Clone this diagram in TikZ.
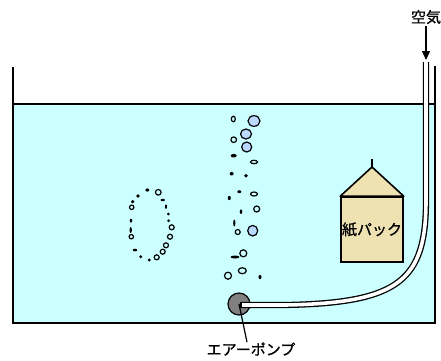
\documentclass[tikz,border=0pt]{standalone}
\usepackage{fontspec}
\newfontfamily\jp{Noto Sans CJK JP}[FakeBold=1]
\usetikzlibrary{arrows.meta,positioning}
\definecolor{water}{RGB}{204,255,255}
\definecolor{bubble}{RGB}{187,216,255}
\definecolor{carton}{RGB}{238,226,178}
\definecolor{pumpgray}{RGB}{128,128,128}
\tikzset{
  wall/.style={line width=1.6pt},
  ring/.style={draw, line width=1.2pt, fill=water},
  bub/.style={draw, line width=1.2pt, fill=bubble},
  dot/.style={fill=black},
  hose/.style={double=white, double distance=3.6pt, line width=1.3pt},
  lbl/.style={font=\jp\fontsize{15}{17}\selectfont, inner sep=0pt},
}

\begin{document}
\begin{tikzpicture}[x=1pt,y=-1pt]
		\useasboundingbox (0,0) rectangle (441,360);
		% tank and water
		\fill[water] (13,104) rectangle (435,323);
		\draw[wall] (13,104) -- (435,104);
		\draw[wall] (13,67) -- (13,323) -- (435,323) -- (435,66);
		% bubbles
		\foreach \x/\y/\rx/\ry in {233.3/119/2/2.8, 233.7/139.7/2.8/2.8, 254/162/3.5/1.7, 254/194/3.5/2,
			256.7/209/3/3, 237.7/232/2.5/2.5, 243.3/253.3/3.5/3.5, 242.3/270.7/4/3, 228/275.7/3.5/3.5,
			158.3/192.3/2.8/2.8, 131.7/207.3/2.2/2.2, 171.7/227.3/2.5/2.5, 131.3/236.7/2.2/2.2,
			170/236.7/2.5/2.5, 166/245.3/2.5/2.5, 162.7/251.7/2.5/2.5, 156.7/257.3/2.5/2.5}
			\draw[ring] (\x,\y) ellipse [x radius=\rx, y radius=\ry];
		\foreach \x/\y/\rx/\ry in {254/121/6/5.3, 246/134/5.5/5, 246.7/147/5/5, 252.7/230.7/5/5.3}
			\draw[bub] (\x,\y) ellipse [x radius=\rx, y radius=\ry];
		\foreach \x/\y/\rx/\ry in {233.7/155.7/3/1.8, 231.7/173.7/2/1.8, 246/175.7/1.8/1.8, 239.3/191.7/2/1.5,
			229.3/198/1.5/2.2, 241/211.7/1.3/2.3, 234.3/223/1.1/3.5, 235/257/4.5/1.5, 260/277/1.5/2.2,
			147.3/190/2/1.6, 138/196/1.8/1.8, 132.7/201.7/1.8/1.8, 162.7/200/2.2/1.2, 166/206.7/1.1/2.2,
			168.3/214/1.5/1.5, 131/220.7/1.3/2, 168.7/220.7/1.5/1.5, 130.7/230/1.2/3, 135/250/2.3/1.3,
			140.7/256.7/1.6/1.6, 149.3/260/1.6/1.6}
			\fill[dot] (\x,\y) ellipse [x radius=\rx, y radius=\ry];
		% paper pack
		\node[draw, wall, fill=carton, minimum width=62pt, minimum height=65pt, inner sep=0pt,
			font=\jp\fontsize{15}{17}\selectfont] (pack) at (372,229.5) {紙パック};
		\coordinate (roof) at (372,167);
		\draw[wall, fill=carton, line join=round] (pack.north west) -- (roof) -- (pack.north east) -- cycle;
		\draw[wall] (roof) -- ++(0,-8);
		% pump and hose
		\node[circle, draw, line width=1.2pt, fill=pumpgray, minimum size=22pt, inner sep=0pt] (pump) at (239,304) {};
		\coordinate (top) at (426,62);
		\draw[hose] (241,305) -- (285,305) .. controls (400,303) and (426,280) .. (426,200) -- (top);
		\draw[line width=1.3pt] (241,302.2) -- (241,307.8);
		\node[lbl] (pumplbl) at (251,349) {エアーポンプ};
		\draw[line width=1.2pt] (pump.center) -- ([xshift=-4pt]pumplbl.north);
		% air in
		\node[lbl] (air) at (426,17) {空気};
		\draw[line width=1.4pt, -{Triangle[length=9pt,width=8pt]}] ([yshift=-2pt]air.south) -- ([yshift=2pt]top);
	\end{tikzpicture}
\end{document}
